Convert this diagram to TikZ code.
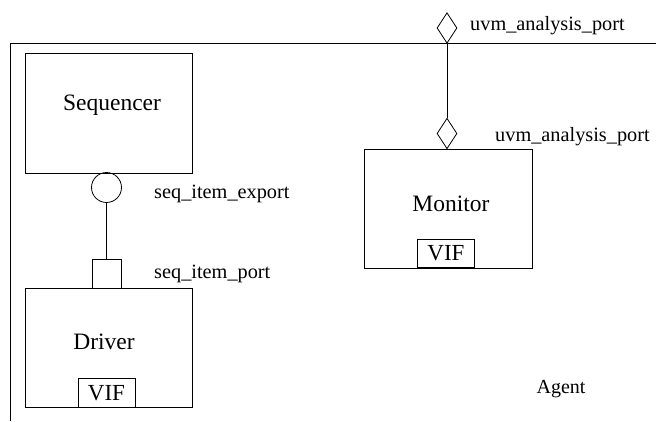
\documentclass[tikz,border=0pt]{standalone}
\usepackage{fontspec}
\setmainfont{Liberation Serif}
\usetikzlibrary{shapes.geometric}
\tikzset{
  block/.style={draw, rectangle, inner sep=0pt, line width=0.8pt},
  bigtext/.style={inner sep=0pt, font=\fontsize{23.5}{28}\selectfont},
  porttext/.style={inner sep=0pt, anchor=west, font=\fontsize{20.3}{24}\selectfont},
  vifbox/.style={block, minimum width=57pt, minimum height=28.5pt, font=\fontsize{23}{27}\selectfont},
  apport/.style={draw, diamond, inner sep=0pt, minimum width=20pt, minimum height=30.5pt, line width=0.8pt},
  wire/.style={line width=0.8pt}
}
\begin{document}
\begin{tikzpicture}[x=1pt, y=-1pt]
\useasboundingbox (0,0) rectangle (656,421);

% agent boundary (top and left edges)
\coordinate (agtr) at (656,43);
\coordinate (agtl) at (10.5,43);
\coordinate (agbl) at (10.5,421);
\draw[wire] (agtr) -- (agtl) -- (agbl);
\node[bigtext, font=\fontsize{20}{24}\selectfont] (agent) at (561,389) {Agent};

% sequencer with its export
\node[block, minimum width=167pt, minimum height=120pt] (seqbox) at (108.5,113) {};
\node[bigtext] (seqtext) at (112,105.5) {Sequencer};
\node[draw, circle, inner sep=0pt, minimum size=30pt, line width=0.8pt] (export) at (106.5,187.5) {};
\node[porttext] (exportlbl) at (154,194) {seq\_item\_export};

% driver with its port
\node[block, minimum width=29pt, minimum height=29pt] (port) at (106.5,273.5) {};
\node[porttext] (portlbl) at (154,273.5) {seq\_item\_port};
\node[block, minimum width=167pt, minimum height=119pt] (drvbox) at (108.5,347.5) {};
\node[bigtext] (drvtext) at (104,342) {Driver};
\node[vifbox] (drvvif) at (106.5,393) {VIF};
\draw[wire] (export.south) -- (port.north);

% monitor with its analysis ports
\node[block, minimum width=168pt, minimum height=119pt] (monbox) at (448,208.5) {};
\node[bigtext] (montext) at (451,204) {Monitor};
\node[vifbox] (monvif) at (446,253.5) {VIF};
\node[apport] (apagent) at (447,28) {};
\node[apport] (apmon) at (447,133.5) {};
\node[porttext] (apagentlbl) at (470,26) {uvm\_analysis\_port};
\node[porttext] (apmonlbl) at (495,137) {uvm\_analysis\_port};
\draw[wire] (apagent.south) -- (apmon.north);
\end{tikzpicture}
\end{document}
